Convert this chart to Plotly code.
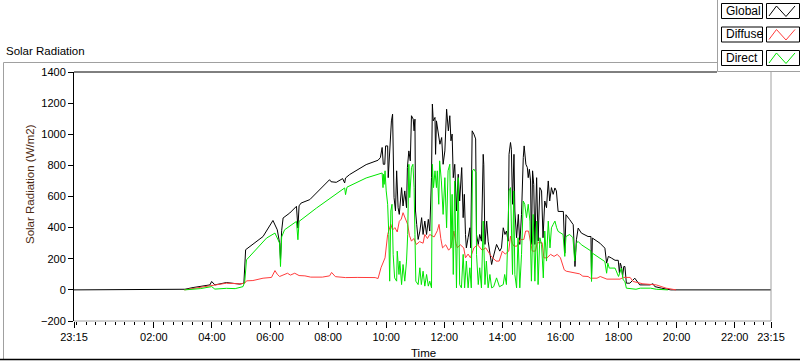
import plotly.graph_objects as go
import pandas as pd

# ---------------- data (hours after midnight, W/m2) ----------------
global_points = [
    (-0.75, 0), (3.05, 0), (3.07, 4), (3.35, 15), (3.58, 21), (3.93, 32), (3.99, 54), (4.10, 32),
    (4.50, 47), (4.96, 37), (5.10, 43), (5.16, 258), (5.76, 343), (5.95, 397), (6.10, 446),
    (6.25, 386), (6.33, 300), (6.36, 193), (6.40, 380), (6.45, 462), (6.68, 494), (6.91, 537),
    (6.96, 397), (7.00, 540), (7.07, 558), (7.37, 580), (7.60, 623), (8.05, 708), (8.10, 695),
    (8.28, 691), (8.50, 715), (8.57, 687), (8.60, 719), (8.74, 741), (9.31, 805), (9.72, 833),
    (9.80, 850), (9.86, 915), (9.90, 807), (9.95, 807), (9.98, 925), (10.05, 925), (10.07, 721),
    (10.12, 882), (10.18, 1086), (10.22, 1129), (10.27, 593), (10.32, 507), (10.36, 765),
    (10.41, 528), (10.45, 485), (10.53, 657), (10.58, 539), (10.64, 636), (10.70, 528),
    (10.73, 786), (10.78, 893), (10.83, 829), (10.87, 1119), (10.93, 1097), (10.96, 1022),
    (10.99, 1097), (11.01, 507), (11.05, 421), (11.10, 324), (11.16, 378), (11.22, 464),
    (11.27, 356), (11.33, 442), (11.39, 356), (11.45, 453), (11.50, 378), (11.56, 721),
    (11.59, 1194), (11.62, 1086), (11.68, 1108), (11.70, 871), (11.73, 1086), (11.79, 1022),
    (11.85, 936), (11.91, 979), (11.96, 807), (12.02, 893), (12.08, 1161), (12.14, 1022),
    (12.19, 1119), (12.23, 958), (12.27, 1001), (12.31, 721), (12.36, 807), (12.42, 507),
    (12.48, 743), (12.53, 571), (12.60, 786), (12.65, 464), (12.69, 614), (12.73, 356),
    (12.76, 270), (12.82, 335), (12.88, 399), (12.91, 270), (12.96, 1022), (13.02, 1001),
    (13.08, 970), (13.11, 356), (13.17, 292), (13.22, 356), (13.28, 313), (13.34, 871),
    (13.36, 807), (13.40, 292), (13.46, 442), (13.51, 313), (13.57, 228), (13.63, 163),
    (13.68, 206), (13.80, 292), (13.91, 249), (13.97, 270), (14.03, 399), (14.09, 356),
    (14.14, 378), (14.20, 313), (14.23, 871), (14.28, 947), (14.31, 904), (14.35, 550),
    (14.40, 871), (14.43, 507), (14.49, 335), (14.55, 485), (14.60, 292), (14.66, 485),
    (14.72, 850), (14.75, 925), (14.81, 807), (14.86, 786), (14.89, 721), (14.93, 775),
    (14.97, 700), (15.00, 292), (15.04, 765), (15.08, 678), (15.12, 292), (15.18, 721),
    (15.23, 313), (15.29, 657), (15.35, 636), (15.40, 335), (15.46, 571), (15.52, 528),
    (15.58, 700), (15.63, 571), (15.69, 657), (15.75, 614), (15.81, 655), (15.86, 636),
    (15.92, 504), (16.10, 504), (16.15, 236), (16.19, 483), (16.32, 451), (16.44, 419),
    (16.50, 150), (16.55, 322), (16.61, 397), (16.72, 365), (16.95, 343), (17.05, 343),
    (17.07, 86), (17.10, 333), (17.36, 300), (17.53, 268), (17.59, 172), (17.65, 215),
    (17.76, 204), (17.88, 190), (17.99, 190), (18.03, 110), (18.06, 172), (18.10, 150),
    (18.14, 86), (18.18, 150), (18.22, 150), (18.27, 43), (18.39, 43), (18.56, 75),
    (18.73, 32), (19.08, 32), (19.19, 39), (19.25, 21), (19.48, 11), (19.80, 0), (23.25, 0),
]

diffuse_points = [
    (3.05, 0), (3.58, 17), (4.04, 28), (4.50, 43), (4.96, 39), (5.13, 43), (5.19, 58),
    (5.41, 60), (5.76, 75), (6.05, 80), (6.17, 124), (6.25, 100), (6.33, 86), (6.45, 97),
    (6.60, 107), (6.70, 95), (6.85, 107), (7.00, 92), (7.20, 90), (7.40, 82), (7.80, 82),
    (8.05, 90), (8.12, 112), (8.25, 85), (8.60, 79), (9.00, 80), (9.40, 78), (9.62, 79),
    (9.72, 73), (9.82, 142), (9.96, 206), (10.05, 356), (10.16, 421), (10.22, 385),
    (10.30, 400), (10.38, 372), (10.45, 440), (10.52, 455), (10.58, 496), (10.65, 460),
    (10.74, 420), (10.80, 350), (10.87, 313), (10.95, 330), (11.04, 292), (11.15, 310),
    (11.27, 300), (11.33, 356), (11.42, 330), (11.50, 356), (11.65, 340), (11.76, 380),
    (11.82, 421), (11.88, 330), (11.94, 270), (12.05, 290), (12.15, 255), (12.22, 270),
    (12.33, 378), (12.40, 300), (12.45, 270), (12.55, 290), (12.67, 270), (12.73, 206),
    (12.82, 230), (12.90, 206), (13.02, 270), (13.15, 290), (13.30, 255), (13.43, 270),
    (13.60, 220), (13.78, 185), (13.89, 185), (14.00, 249), (14.10, 230), (14.22, 249),
    (14.28, 346), (14.34, 300), (14.40, 281), (14.50, 281), (14.62, 324), (14.74, 324),
    (14.80, 378), (14.90, 378), (15.03, 249), (15.14, 249), (15.20, 303), (15.37, 303),
    (15.43, 206), (15.54, 206), (15.66, 228), (15.78, 215), (15.89, 228), (16.00, 206),
    (16.13, 129), (16.20, 120), (16.43, 110), (16.66, 103), (16.77, 88), (16.95, 86),
    (17.03, 75), (17.26, 75), (17.37, 86), (17.60, 69), (18.05, 69), (18.17, 80),
    (18.40, 80), (18.50, 54), (18.84, 39), (19.30, 32), (19.64, 11), (19.98, 0),
]

direct_points = [
    (3.05, 0), (3.30, 5), (3.60, 8), (3.99, 21), (4.10, 5), (4.50, 10), (4.80, 8), (5.07, 21),
    (5.13, 54), (5.19, 193), (5.88, 333), (6.17, 365), (6.33, 300), (6.36, 150), (6.40, 340),
    (6.50, 386), (6.91, 440), (6.96, 322), (7.00, 440), (7.60, 526), (8.57, 655), (8.60, 612),
    (8.65, 660), (9.31, 719), (9.86, 751), (9.89, 657), (9.91, 743), (9.93, 678), (9.96, 765),
    (10.00, 636), (10.05, 550), (10.09, 356), (10.12, 56), (10.16, 507), (10.20, 550),
    (10.24, 228), (10.29, 77), (10.36, 56), (10.38, 249), (10.44, 99), (10.47, 185),
    (10.53, 34), (10.58, 163), (10.64, 56), (10.70, 185), (10.74, 356), (10.78, 807),
    (10.81, 593), (10.87, 786), (10.92, 807), (10.96, 657), (10.99, 356), (11.02, 56),
    (11.10, 34), (11.16, 142), (11.21, 34), (11.27, 120), (11.33, 24), (11.39, 99),
    (11.45, 24), (11.50, 56), (11.56, 13), (11.59, 807), (11.63, 657), (11.68, 765),
    (11.73, 657), (11.76, 765), (11.81, 550), (11.84, 829), (11.90, 700), (11.96, 485),
    (12.02, 721), (12.08, 399), (12.13, 765), (12.19, 807), (12.23, 270), (12.27, 614),
    (12.31, 99), (12.36, 700), (12.42, 13), (12.48, 721), (12.53, 34), (12.59, 13),
    (12.65, 228), (12.70, 13), (12.76, 185), (12.82, 13), (12.88, 142), (12.93, 13),
    (12.97, 765), (13.02, 776), (13.09, 754), (13.11, 228), (13.17, 34), (13.22, 142),
    (13.28, 13), (13.34, 442), (13.40, 34), (13.45, 185), (13.51, 13), (13.57, 99),
    (13.63, 13), (13.70, 20), (13.80, 77), (13.90, 20), (14.03, 34), (14.08, 99),
    (14.14, 34), (14.20, 356), (14.23, 636), (14.28, 657), (14.31, 399), (14.35, 99),
    (14.39, 636), (14.43, 99), (14.49, 13), (14.54, 335), (14.60, 13), (14.66, 228),
    (14.72, 571), (14.77, 550), (14.83, 464), (14.89, 550), (14.95, 442), (15.00, 56),
    (15.06, 485), (15.12, 56), (15.18, 442), (15.23, 34), (15.29, 335), (15.35, 292),
    (15.41, 77), (15.46, 378), (15.52, 185), (15.58, 442), (15.64, 270), (15.69, 399),
    (15.75, 421), (15.81, 442), (15.87, 399), (15.92, 376), (16.09, 356), (16.15, 215),
    (16.19, 343), (16.32, 356), (16.43, 335), (16.49, 185), (16.55, 301), (16.61, 311),
    (16.72, 290), (16.95, 258), (17.05, 250), (17.07, 54), (17.10, 236), (17.53, 182),
    (17.59, 107), (17.63, 172), (17.68, 140), (17.88, 140), (17.93, 118), (18.00, 86),
    (18.10, 140), (18.16, 64), (18.22, 54), (18.27, 11), (18.60, 4), (18.75, 11),
    (19.10, 11), (19.30, 4), (19.70, 0),
]

x_tick_hours = [-0.75, 2, 4, 6, 8, 10, 12, 14, 16, 18, 20, 22, 23.25]
x_tick_labels = ["23:15", "02:00", "04:00", "06:00", "08:00", "10:00", "12:00",
                 "14:00", "16:00", "18:00", "20:00", "22:00", "23:15"]
y_tick_values = [-200, 0, 200, 400, 600, 800, 1000, 1200, 1400]

series_names = ["Global", "Diffuse", "Direct"]
series_colors = ["#000000", "#ff3c3c", "#00e600"]

# ---------------- helpers ----------------
BASE = pd.Timestamp("2024-06-01 00:00")


def to_time(hours):
    return [BASE + pd.Timedelta(minutes=round(h * 60, 3)) for h in hours]


W, H = 800, 361
L, R, T, B = 74, 29, 72, 40
PW, PH = W - L - R, H - T - B


def px(x):
    return (x - L) / PW


def py(y):
    return (H - B - y) / PH


FONT = "Liberation Sans, Arial, sans-serif"

fig = go.Figure()
for name, pts, col in zip(series_names, [global_points, diffuse_points, direct_points], series_colors):
    hrs = [p[0] for p in pts]
    vals = [p[1] for p in pts]
    fig.add_trace(go.Scatter(x=to_time(hrs), y=vals, mode="lines", name=name,
                             line=dict(color=col, width=1), showlegend=False,
                             hoverinfo="skip"))

shapes = []
# plot area border
shapes.append(dict(type="line", xref="paper", yref="paper", x0=px(74), x1=px(717), y0=1, y1=1,
                   line=dict(color="black", width=1)))
shapes.append(dict(type="line", xref="paper", yref="paper", x0=1, x1=1, y0=0, y1=1,
                   line=dict(color="#a0a0a0", width=1)))
shapes.append(dict(type="line", xref="paper", yref="paper", x0=0, x1=1, y0=0, y1=0,
                   line=dict(color="#a0a0a0", width=1)))
# outer frame
shapes.append(dict(type="line", xref="paper", yref="paper", x0=px(3.5), x1=px(717), y0=py(62.5), y1=py(62.5),
                   line=dict(color="#a0a0a0", width=1)))
shapes.append(dict(type="line", xref="paper", yref="paper", x0=px(3.5), x1=px(3.5), y0=py(62.5), y1=py(359.5),
                   line=dict(color="#a0a0a0", width=1)))
shapes.append(dict(type="line", xref="paper", yref="paper", x0=px(0), x1=px(800), y0=py(359.5), y1=py(359.5),
                   line=dict(color="#000000", width=1.5)))
# legend container
shapes.append(dict(type="rect", xref="paper", yref="paper", x0=px(717.5), x1=px(801), y0=py(71.5), y1=py(-1),
                   fillcolor="white", line=dict(width=0)))
shapes.append(dict(type="line", xref="paper", yref="paper", x0=px(717.5), x1=px(717.5), y0=py(71.5), y1=py(0),
                   line=dict(color="#a0a0a0", width=1)))
shapes.append(dict(type="line", xref="paper", yref="paper", x0=px(717.5), x1=px(801), y0=py(71.5), y1=py(71.5),
                   line=dict(color="#a0a0a0", width=1)))

annotations = []
row_tops = [3.5, 27, 50.5]
for name, col, top in zip(series_names, series_colors, row_tops):
    bot = top + 15
    shapes.append(dict(type="rect", xref="paper", yref="paper", x0=px(721.5), x1=px(762.5),
                       y0=py(bot), y1=py(top), line=dict(color="black", width=1), fillcolor="white"))
    shapes.append(dict(type="rect", xref="paper", yref="paper", x0=px(766.5), x1=px(799.5),
                       y0=py(bot), y1=py(top), line=dict(color="black", width=1), fillcolor="white"))
    zig = [(769, bot - 2.5), (776.5, top + 2.5), (786, bot - 2), (795, top + 2.5)]
    path = "M " + " L ".join(f"{px(a):.5f},{py(b):.5f}" for a, b in zig)
    shapes.append(dict(type="path", xref="paper", yref="paper", path=path,
                       line=dict(color=col, width=1)))
    annotations.append(dict(text=name, xref="paper", yref="paper", x=px(723.5), y=py(top + 7.5),
                            xanchor="left", yanchor="middle", showarrow=False,
                            font=dict(family=FONT, size=12, color="black")))

annotations.append(dict(text="Solar Radiation", xref="paper", yref="paper", x=px(4), y=py(51),
                        xanchor="left", yanchor="middle", showarrow=False,
                        font=dict(family=FONT, size=11.5, color="black")))
annotations.append(dict(text="Solar Radiation (W/m2)", xref="paper", yref="paper", x=px(30), y=py(184),
                        xanchor="center", yanchor="middle", textangle=-90, showarrow=False,
                        font=dict(family=FONT, size=11.5, color="#4d2a12")))
annotations.append(dict(text="Time", xref="paper", yref="paper", x=px(423), y=py(353),
                        xanchor="center", yanchor="middle", showarrow=False,
                        font=dict(family=FONT, size=11.5, color="black")))

fig.update_layout(
    width=W, height=H,
    margin=dict(l=L, r=R, t=T, b=B, pad=0),
    paper_bgcolor="white", plot_bgcolor="white",
    font=dict(family=FONT, size=11, color="black"),
    shapes=shapes, annotations=annotations,
    showlegend=False,
    hovermode=False,
    xaxis=dict(
        type="date",
        range=[BASE - pd.Timedelta(minutes=45), BASE + pd.Timedelta(hours=23, minutes=15)],
        tickmode="array", tickvals=to_time(x_tick_hours), ticktext=x_tick_labels,
        ticks="outside", ticklen=6, tickcolor="black", tickwidth=1,
        minor=dict(ticks="outside", ticklen=3, tickcolor="black", tickwidth=1,
                   dtick=20 * 60 * 1000, tick0="2024-06-01 00:00", showgrid=False),
        showline=False, showgrid=False, zeroline=False, automargin=False,
        tickfont=dict(family=FONT, size=11, color="black"),
    ),
    yaxis=dict(
        range=[-200, 1400], tickmode="array", tickvals=y_tick_values,
        ticks="outside", ticklen=5, tickcolor="black", tickwidth=1,
        showline=True, linecolor="black", linewidth=1,
        showgrid=False, zeroline=False, automargin=False,
        tickfont=dict(family=FONT, size=11, color="black"),
    ),
)

fig.write_html(
    "out.html",
    config={"displayModeBar": False, "staticPlot": True},
    post_script="document.body.style.margin='0';document.body.style.padding='0';"
                "document.body.style.overflow='hidden';",
)
